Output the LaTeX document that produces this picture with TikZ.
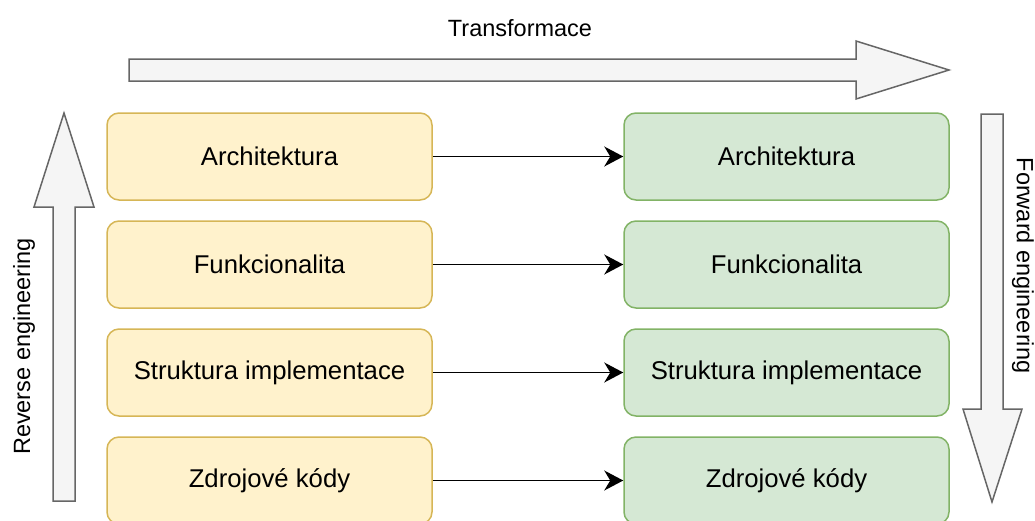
\documentclass[tikz,border=0pt]{standalone}
\usepackage{fontspec}
\setmainfont{Liberation Sans}
\usetikzlibrary{positioning}
\usetikzlibrary{arrows.meta}
\definecolor{yfill}{HTML}{FFF2CC}
\definecolor{ydraw}{HTML}{D6B656}
\definecolor{gfill}{HTML}{D5E8D4}
\definecolor{gdraw}{HTML}{82B366}
\definecolor{afill}{HTML}{F5F5F5}
\definecolor{adraw}{HTML}{666666}

\begin{document}
\begin{tikzpicture}
	[x=1pt, y=-1pt,
	 level/.style={rectangle, rounded corners=12pt, line width=1.5pt, minimum width=325pt, minimum height=87pt, font=\fontsize{25.7}{30}\selectfont},
	 source/.style={level, draw=ydraw, fill=yfill},
	 target/.style={level, draw=gdraw, fill=gfill},
	 link/.style={-{Stealth[length=19pt, width=20pt, inset=6pt]}, line width=1.5pt},
	 bigarrow/.style={draw=adraw, fill=afill, line width=1.5pt},
	 caption/.style={font=\fontsize{23.5}{28}\selectfont},
	 node distance=19.5pt and 190.5pt]
	\useasboundingbox (0,0) rectangle (1035,520);
	% big arrows
	\draw[bigarrow] (129,59) -- (856,59) -- (856,41) -- (949,70) -- (856,99) -- (856,81) -- (129,81) -- cycle;
	\draw[bigarrow] (53,501) -- (53,207) -- (34,207) -- (64,113) -- (94,207) -- (75,207) -- (75,501) -- cycle;
	\draw[bigarrow] (981,114) -- (1003,114) -- (1003,409) -- (1022,409) -- (992,502) -- (963,409) -- (981,409) -- cycle;
	\node[caption] (transf) at (520,28) {Transformace};
	\node[caption, rotate=90] (reverse) at (24,346.5) {Reverse engineering};
	\node[caption, rotate=-90] (forward) at (1023,265.5) {Forward engineering};
	% levels
	\node[source] (s1) at (269.5,156.5) {Architektura};
	\node[source, below=of s1] (s2) {Funkcionalita};
	\node[source, below=of s2] (s3) {Struktura implementace};
	\node[source, below=of s3] (s4) {Zdrojové kódy};
	\node[target, right=of s1] (t1) {Architektura};
	\node[target, right=of s2] (t2) {Funkcionalita};
	\node[target, right=of s3] (t3) {Struktura implementace};
	\node[target, right=of s4] (t4) {Zdrojové kódy};
	\draw[link] (s1) -- (t1);
	\draw[link] (s2) -- (t2);
	\draw[link] (s3) -- (t3);
	\draw[link] (s4) -- (t4);
\end{tikzpicture}
\end{document}
